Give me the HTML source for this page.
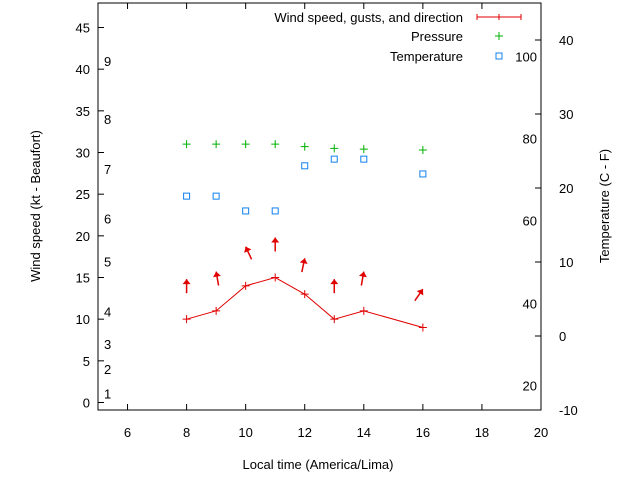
<!DOCTYPE html>
<html><head><meta charset="utf-8"><style>
body{margin:0;background:#fff;font-family:"Liberation Sans",sans-serif;}
svg text{font-family:"Liberation Sans",sans-serif;font-size:13px;fill:#000;}
</style></head><body>
<svg id="c" width="640" height="480" xmlns="http://www.w3.org/2000/svg"></svg>
<script>
const hours=[8,9,10,11,12,13,14,16];
const wind=[10,11,14,15,13,10,11,9];
const gust=[14.8,15.7,18.7,19.8,17.3,14.8,15.7,13.6];
const dirTilt=[0,-10,-25,0,12,0,10,35];
const pressure=[31,31,31,31,30.7,30.5,30.4,30.3];
const tempHours=[8,9,10,11,12,13,14,16];
const temp=[18.9,18.9,16.9,16.9,23,23.9,23.9,21.9];
const xTicks=[6,8,10,12,14,16,18,20];
const yTicks=[0,5,10,15,20,25,30,35,40,45];
const y2Ticks=[-10,0,10,20,30,40];
const beaufort=[["1",1.1],["2",4],["3",7],["4",10.9],["5",16.9],["6",22.1],["7",28],["8",34],["9",41]];
const fahr=[["20",-6.7],["40",4.4],["60",15.6],["80",26.7],["100",37.8]];
const L=98,R=541,T=3,B=410;
const X=v=>L+(v-5)*(R-L)/15;
const Y=v=>402.5-v*8.333;
const Y2=v=>336-v*7.4;
const s=document.getElementById('c');const NS="http://www.w3.org/2000/svg";
function el(t,a,txt){const e=document.createElementNS(NS,t);for(const k in a)e.setAttribute(k,a[k]);if(txt!==undefined)e.textContent=txt;s.appendChild(e);return e;}
let e=el('rect',{x:L,y:T,width:R-L,height:B-T,fill:'none',stroke:'#000'});

xTicks.forEach(v=>{el('line',{x1:X(v),x2:X(v),y1:B,y2:B-6,stroke:'#000'});el('line',{x1:X(v),x2:X(v),y1:T,y2:T+6,stroke:'#000'});
 e=el('text',{x:X(v),y:437,'text-anchor':'middle'},v);});
yTicks.forEach(v=>{el('line',{x1:L,x2:L+6,y1:Y(v),y2:Y(v),stroke:'#000'});
 e=el('text',{x:L-8,y:Y(v)+5,'text-anchor':'end'},v);});
y2Ticks.forEach(v=>{el('line',{x1:R,x2:R-6,y1:Y2(v),y2:Y2(v),stroke:'#000'});
 e=el('text',{x:559,y:Y2(v)+5},v);});
beaufort.forEach(b=>{e=el('text',{x:104,y:Y(b[1])+5},b[0]);});
fahr.forEach(f=>{e=el('text',{x:537,y:Y2(f[1])+5,'text-anchor':'end'},f[0]);});
e=el('text',{x:318,y:469,'text-anchor':'middle'},'Local time (America/Lima)');
e=el('text',{x:40,y:206,'text-anchor':'middle',transform:'rotate(-90 40 206)'},'Wind speed (kt - Beaufort)');
e=el('text',{x:609,y:206,'text-anchor':'middle',transform:'rotate(-90 609 206)'},'Temperature (C - F)');
// wind line
e=el('polyline',{points:hours.map((h,i)=>X(h)+','+Y(wind[i])).join(' '),fill:'none',stroke:'#e00000'});
hours.forEach((h,i)=>{const x=X(h),y=Y(wind[i]);e=el('path',{d:`M${x-4} ${y}h8M${x} ${y-4}v8`,stroke:'#e00000'});
 const tx=x,ty=Y(gust[i]),a=dirTilt[i]*Math.PI/180,len=14;
 const bx=tx-Math.sin(a)*len,by=ty+Math.cos(a)*len;
 const g=el('g',{transform:`rotate(${dirTilt[i]} ${tx} ${ty})`});
 const ln=document.createElementNS(NS,'line');ln.setAttribute('x1',tx);ln.setAttribute('y1',ty);ln.setAttribute('x2',tx);ln.setAttribute('y2',ty+len);ln.setAttribute('stroke','#e00000');ln.setAttribute('stroke-width','1.5');g.appendChild(ln);
 const hd=document.createElementNS(NS,'path');hd.setAttribute('d',`M${tx} ${ty}L${tx-4} ${ty+5}L${tx+4} ${ty+5}Z`);hd.setAttribute('fill','#e00000');g.appendChild(hd);});
hours.forEach((h,i)=>{const x=X(h),y=Y(pressure[i]);e=el('path',{d:`M${x-4} ${y}h8M${x} ${y-4}v8`,stroke:'#00b000'});});
tempHours.forEach((h,i)=>{e=el('rect',{x:X(h)-3,y:Y2(temp[i])-3,width:6,height:6,fill:'none',stroke:'#1080f0'});});
// legend
e=el('text',{x:463,y:22,'text-anchor':'end'},'Wind speed, gusts, and direction');
el('path',{d:'M477 17h44M477 14v6M521 14v6M499 14v6',stroke:'#e00000'});
e=el('text',{x:463,y:41,'text-anchor':'end'},'Pressure');
el('path',{d:'M495 36h8M499 32v8',stroke:'#00b000'});
e=el('text',{x:463,y:61,'text-anchor':'end'},'Temperature');
el('rect',{x:496,y:53,width:6,height:6,fill:'none',stroke:'#1080f0'});
</script></body></html>
